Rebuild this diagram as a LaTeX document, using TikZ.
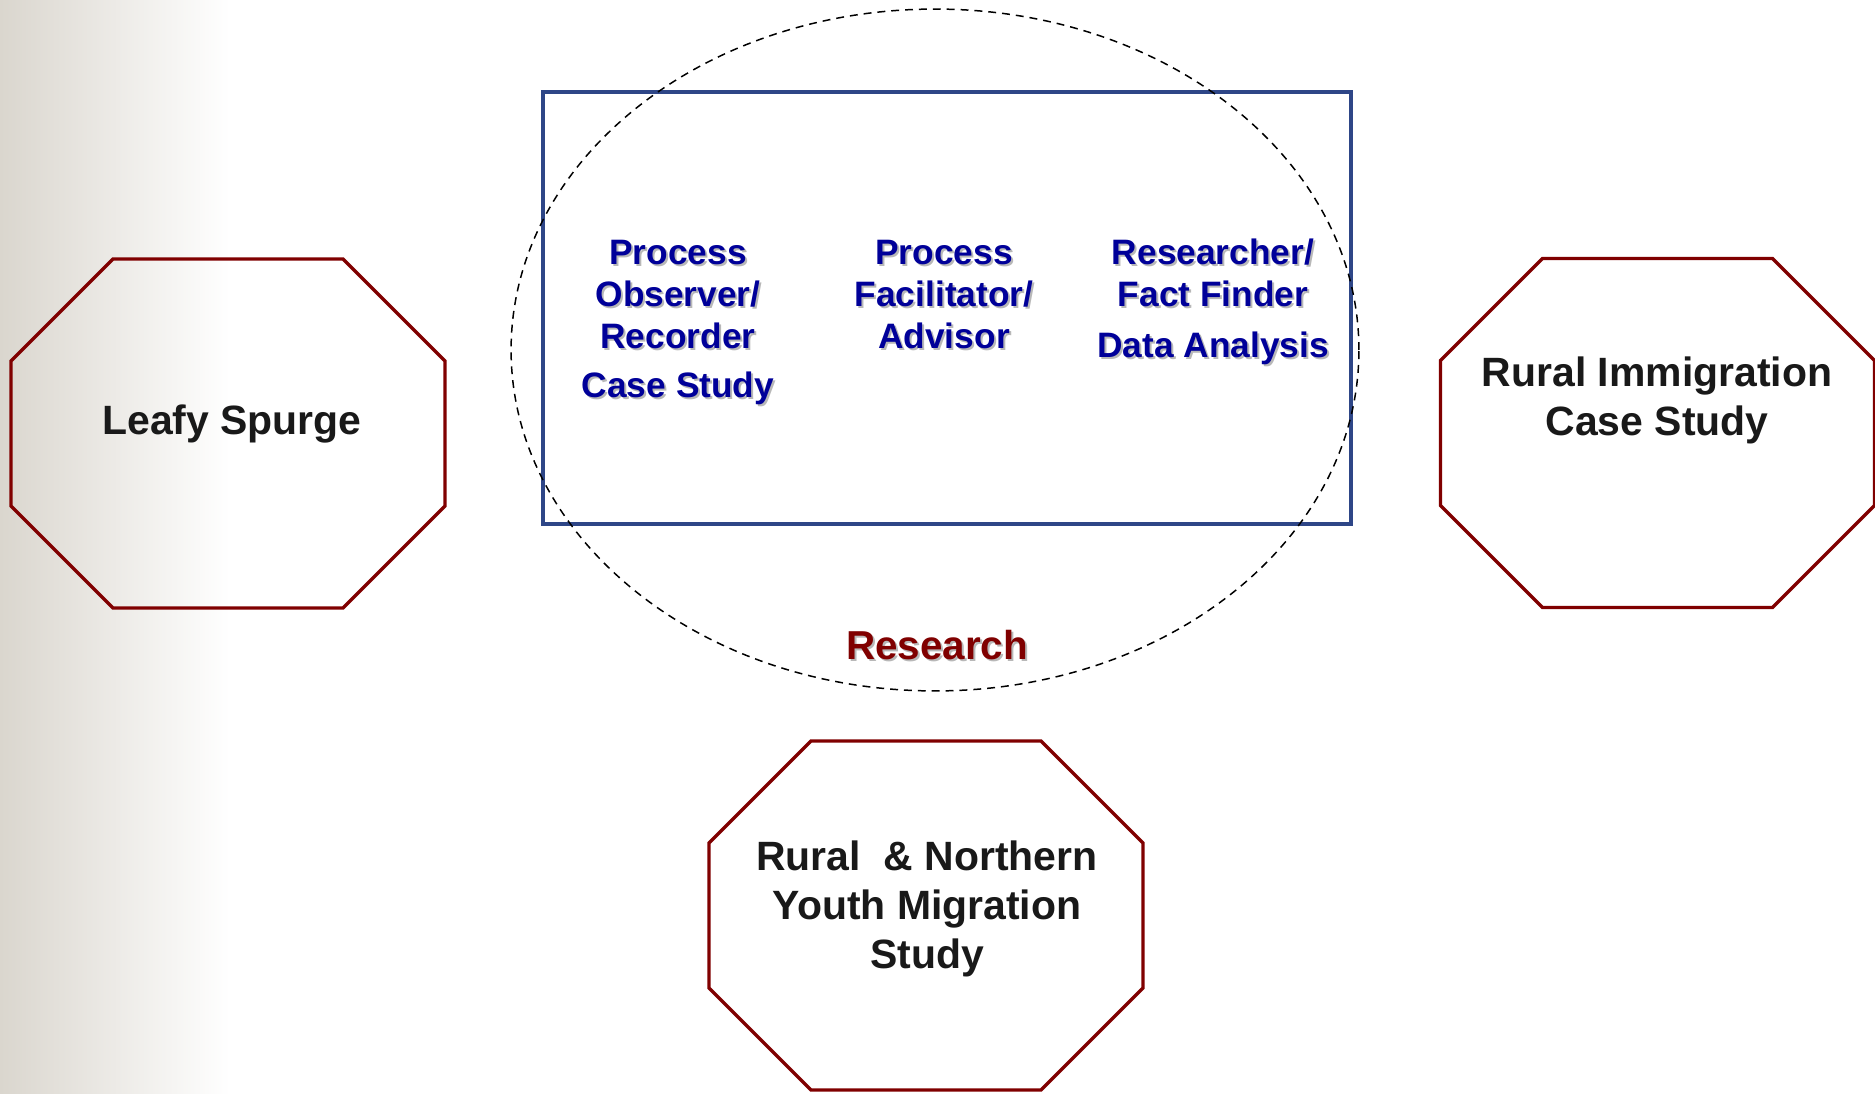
\documentclass[tikz,border=0pt]{standalone}
\usepackage{fontspec}
\setmainfont{Liberation Sans}
\usetikzlibrary{shapes.geometric}
\definecolor{bordeaux}{RGB}{128,0,0}
\definecolor{marine}{RGB}{46,70,135}
\definecolor{bleutexte}{RGB}{0,0,153}
\definecolor{fond}{RGB}{218,214,206}
\begin{document}
\begin{tikzpicture}[x=0.02cm,y=-0.02cm]
% Styles (MODIFIABLES)
\tikzstyle{octo}=[draw=bordeaux,line width=1.9pt,line join=miter]
\tikzstyle{cadre}=[draw=marine,line width=2.3pt,rectangle,inner sep=0pt,minimum width=16.16cm,minimum height=8.64cm]
\tikzstyle{bulle}=[draw=black,line width=0.85pt,dash pattern=on 4.5pt off 3.4pt,ellipse,inner sep=0pt,minimum width=16.96cm,minimum height=13.64cm]
\tikzstyle{titre}=[align=center,text=black!90,font=\bfseries\fontsize{23.3}{27.9}\selectfont]
\tikzstyle{bleu}=[align=center,text=bleutexte,font=\bfseries\fontsize{20.1}{23.9}\selectfont]
\tikzstyle{rouge}=[align=center,text=bordeaux,font=\bfseries\fontsize{23}{27.9}\selectfont]
\tikzstyle{ombre}=[text=black!28]
% Dimensions (MODIFIABLES)
\def\DemiLargeur{217}
\def\DemiHauteur{174.5}
\def\Coin{102}
% Octogone autour d'un centre
\def\Octogone#1#2{\draw[octo] ({#1-\DemiLargeur+\Coin},{#2-\DemiHauteur})
  -- ({#1+\DemiLargeur-\Coin},{#2-\DemiHauteur}) -- ({#1+\DemiLargeur},{#2-\DemiHauteur+\Coin})
  -- ({#1+\DemiLargeur},{#2+\DemiHauteur-\Coin}) -- ({#1+\DemiLargeur-\Coin},{#2+\DemiHauteur})
  -- ({#1-\DemiLargeur+\Coin},{#2+\DemiHauteur}) -- ({#1-\DemiLargeur},{#2+\DemiHauteur-\Coin})
  -- ({#1-\DemiLargeur},{#2-\DemiHauteur+\Coin}) -- cycle;}
% Fond
\useasboundingbox (0,0) rectangle (1875,1094);
\shade[left color=fond,right color=white] (0,0) rectangle (230,1094);
% Recherche
\node[cadre] (cadre) at (947,308) {};
\node[bulle] (bulle) at (935,350) {};
\node[bleu,ombre] (Aom) at (680,325) {Process\\Observer/\\Recorder\\[4pt]Case Study};
\node[bleu] (A) at (678,323) {Process\\Observer/\\Recorder\\[4pt]Case Study};
\node[bleu,ombre] (Bom) at (946,297) {Process\\Facilitator/\\Advisor};
\node[bleu] (B) at (944,295) {Process\\Facilitator/\\Advisor};
\node[bleu,ombre] (Com) at (1215,304) {Researcher/\\Fact Finder\\[5pt]Data Analysis};
\node[bleu] (C) at (1213,302) {Researcher/\\Fact Finder\\[5pt]Data Analysis};
\node[rouge,ombre] (Rom) at (939,647) {Research};
\node[rouge] (R) at (937,645) {Research};
% Octogones
\Octogone{228}{433.5}
\Octogone{1657.5}{433}
\Octogone{926}{915.5}
\node[titre] (L) at (232,424.5) {Leafy Spurge};
\node[titre] (I) at (1657,400.5) {Rural Immigration\\Case Study};
\node[titre] (Y) at (927,908.5) {Rural ~\& Northern\\Youth Migration\\Study};
\end{tikzpicture}
\end{document}
